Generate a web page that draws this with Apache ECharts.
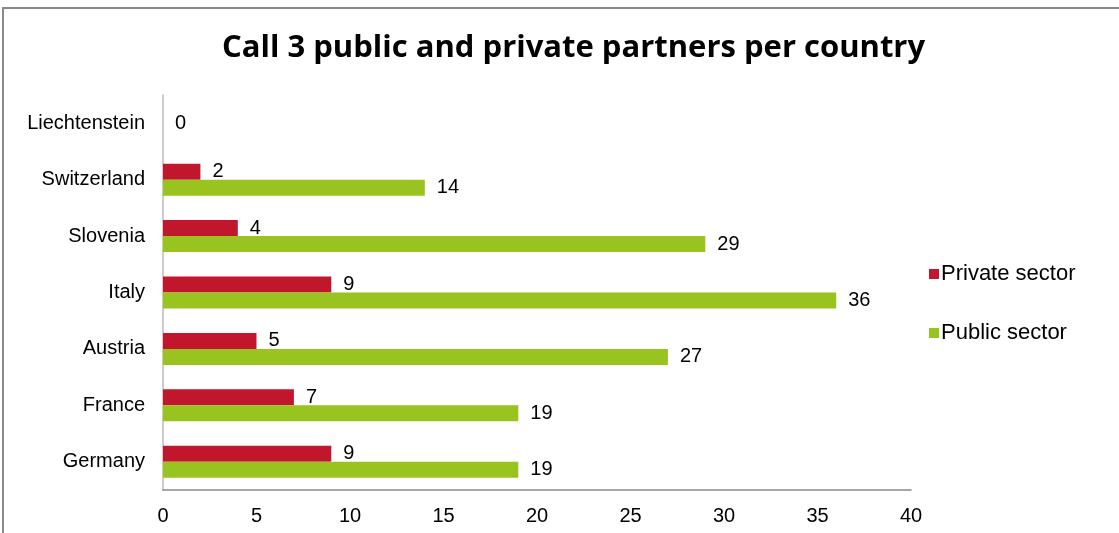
<!DOCTYPE html>
<html>
<head>
<meta charset="utf-8">
<script src="https://cdn.jsdelivr.net/npm/echarts@6/dist/echarts.min.js"></script>
<style>
html,body{margin:0;padding:0;background:#fff;overflow:hidden;}
#frame{position:absolute;left:2px;top:7px;width:1200px;height:600px;border:2px solid #8a8a8a;box-sizing:border-box;}
#chart{position:absolute;left:0;top:0;width:1119px;height:533px;}
</style>
</head>
<body>
<div id="frame"></div>
<div id="chart"></div>
<script>
const titleText = 'Call 3 public and private partners per country';
const countries = ['Germany', 'France', 'Austria', 'Italy', 'Slovenia', 'Switzerland', 'Liechtenstein'];
const privateSector = [9, 7, 5, 9, 4, 2, 0];
const publicSector = [19, 19, 27, 36, 29, 14, null];
const xTicks = [0, 5, 10, 15, 20, 25, 30, 35, 40];

const labelFont = { fontFamily: 'Liberation Sans, Arial, sans-serif', fontSize: 20, color: '#000' };

const privData = privateSector.map((v, i) =>
  countries[i] === 'Liechtenstein'
    ? { value: v, label: { offset: [0, 8] } }
    : v);

const chart = echarts.init(document.getElementById('chart'), null, { renderer: 'canvas' });
chart.setOption({
  animation: false,
  backgroundColor: 'transparent',
  title: {
    text: titleText,
    left: 217,
    top: 28,
    textStyle: { fontFamily: 'Open Sans, Lato, sans-serif', fontWeight: 'bold', fontSize: 31, color: '#000' }
  },
  legend: {
    orient: 'vertical',
    left: 924,
    top: 258,
    itemWidth: 10,
    itemHeight: 10,
    itemGap: 37,
    icon: 'rect',
    textStyle: Object.assign({}, labelFont, { fontSize: 22, padding: [0, 0, 0, -3] }),
    data: ['Private sector', 'Public sector']
  },
  grid: { left: 163, right: 208, top: 95, bottom: 43, containLabel: false },
  xAxis: {
    type: 'value',
    min: xTicks[0],
    max: xTicks[xTicks.length - 1],
    interval: xTicks[1] - xTicks[0],
    axisLine: { show: true, lineStyle: { color: '#888', width: 1.5 } },
    axisTick: { show: false },
    splitLine: { show: false },
    axisLabel: Object.assign({}, labelFont, { margin: 16 })
  },
  yAxis: {
    type: 'category',
    data: countries,
    axisLine: { show: true, lineStyle: { color: '#bbb', width: 1.5 } },
    axisTick: { show: false },
    axisLabel: Object.assign({}, labelFont, { margin: 18 })
  },
  series: [
    {
      name: 'Private sector',
      type: 'bar',
      data: privData,
      barWidth: 16,
      barGap: '0%',
      itemStyle: { color: '#C1172C' },
      label: Object.assign({ show: true, position: 'right', distance: 12 }, labelFont)
    },
    {
      name: 'Public sector',
      type: 'bar',
      data: publicSector,
      barWidth: 16,
      barGap: '0%',
      itemStyle: { color: '#99C31F' },
      label: Object.assign({ show: true, position: 'right', distance: 12 }, labelFont)
    }
  ]
});
</script>
</body>
</html>
